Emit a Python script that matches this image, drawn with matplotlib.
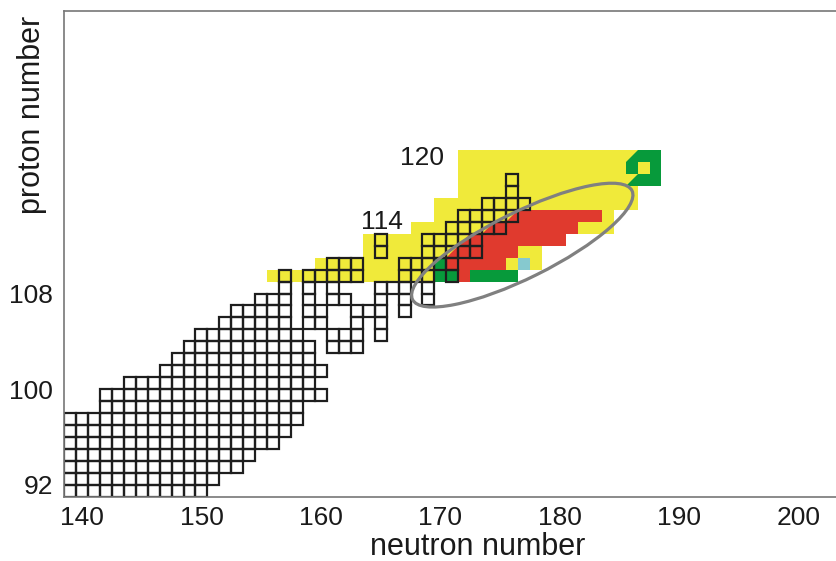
import matplotlib
matplotlib.use('Agg')
import matplotlib.pyplot as plt
from matplotlib.patches import Rectangle, Polygon, Ellipse

plt.rcParams['font.family'] = ['Liberation Sans', 'DejaVu Sans']

# known nuclides (black squares): proton number -> neutron number ranges
known = {
    92: [(139, 150)],
    93: [(139, 151)],
    94: [(139, 153)],
    95: [(139, 154)],
    96: [(139, 156)],
    97: [(139, 157)],
    98: [(139, 158)],
    99: [(142, 158)],
    100: [(142, 160)],
    101: [(144, 159)],
    102: [(147, 160)],
    103: [(148, 159)],
    104: [(149, 159), (161, 163)],
    105: [(150, 158), (161, 163), (165, 165)],
    106: [(152, 157), (159, 160), (163, 163), (165, 165)],
    107: [(153, 157), (159, 160), (163, 165), (167, 167)],
    108: [(155, 157), (159, 159), (161, 162), (165, 165), (167, 167), (169, 169)],
    109: [(157, 157), (159, 159), (161, 161), (165, 167), (169, 169)],
    110: [(157, 157), (159, 163), (167, 169), (171, 171)],
    111: [(161, 163), (167, 171)],
    112: [(165, 165), (169, 173)],
    113: [(165, 165), (169, 173)],
    114: [(171, 175)],
    115: [(172, 176)],
    116: [(174, 177)],
    117: [(176, 176)],
    118: [(176, 176)],
}

# predicted half-lives, coloured by class
yellow = {
    110: [(156, 169)], 111: [(160, 178)], 112: [(164, 178)], 113: [(164, 180)],
    114: [(168, 184)], 115: [(170, 184)], 116: [(170, 186)], 117: [(172, 186)],
    118: [(172, 188)], 119: [(172, 188)], 120: [(172, 188)],
}
green = {
    110: [(170, 171), (173, 176)], 111: [(170, 170)],
    118: [(187, 188)], 119: [(186, 186), (188, 188)], 120: [(187, 188)],
}
red = {
    110: [(172, 172)], 111: [(171, 175)], 112: [(172, 176)], 113: [(173, 180)],
    114: [(175, 181)], 115: [(177, 183)],
}
cyan = {111: [(177, 177)]}
# half-filled cells (lower right triangle)
green_teeth = [(186, 118), (186, 120)]
red_teeth = [(171, 112), (172, 113), (174, 114), (176, 115)]

fig = plt.figure(figsize=(8.37, 5.61), dpi=100)
ax = fig.add_axes([0.0765, 0.1146, 0.9235, 0.8658])


def fill_cells(cells, color, **kw):
    for z, ranges in cells.items():
        for n0, n1 in ranges:
            for n in range(n0, n1 + 1):
                ax.add_patch(Rectangle((n - 0.5, z - 0.5), 1, 1, facecolor=color,
                                       edgecolor='none', **kw))


def fill_teeth(cells, color):
    for n, z in cells:
        ax.add_patch(Polygon([(n - 0.5, z - 0.5), (n + 0.5, z - 0.5), (n + 0.5, z + 0.5)],
                             facecolor=color, edgecolor='none', zorder=1.2))


fill_cells(yellow, '#f0ea3a', zorder=1)
fill_cells(green, '#079a3b', zorder=1.2)
fill_cells(red, '#e03a2e', zorder=1.2)
fill_cells(cyan, '#86c9cf', zorder=1.2)
fill_teeth(green_teeth, '#079a3b')
fill_teeth(red_teeth, '#e03a2e')

for z, ranges in known.items():
    for n0, n1 in ranges:
        for n in range(n0, n1 + 1):
            ax.add_patch(Rectangle((n - 0.5, z - 0.5), 1, 1, facecolor='none',
                                   edgecolor='#1e1e1e', lw=1.6, zorder=2))

# island of stability
ax.add_patch(Ellipse((176.85, 112.55), 20.5, 5.5, angle=26.4, facecolor='none',
                     edgecolor='#808080', lw=2.3, zorder=3))

ax.text(168.5, 119.8, '120', fontsize=19, ha='center', va='center', color='#1a1a1a')
ax.text(165.1, 114.5, '114', fontsize=19, ha='center', va='center', color='#1a1a1a')

ax.set_xlim(138.5, 203.19)
ax.set_ylim(91.5, 132.14)
ax.set_xticks([140, 150, 160, 170, 180, 190, 200])
ax.set_yticks([92.5, 100.5, 108.5])
ax.set_yticklabels(['92', '100', '108'])
ax.tick_params(length=0, labelsize=19, colors='#1a1a1a')
ax.tick_params(axis='x', pad=6.5)
ax.tick_params(axis='y', pad=8)
for side in ['left', 'bottom', 'top']:
    ax.spines[side].set_color('#777777')
    ax.spines[side].set_linewidth(1.2)
ax.spines['right'].set_visible(False)

ax.set_xlabel('neutron number', fontsize=22, color='#1a1a1a')
ax.xaxis.label.set_va('baseline')
ax.xaxis.set_label_coords(0.5356, -0.119)
ax.set_ylabel('proton number', fontsize=22, color='#1a1a1a')
ax.yaxis.label.set_va('center')
ax.yaxis.set_label_coords(-0.041, 0.787)

fig.savefig('out.png', dpi=100)
